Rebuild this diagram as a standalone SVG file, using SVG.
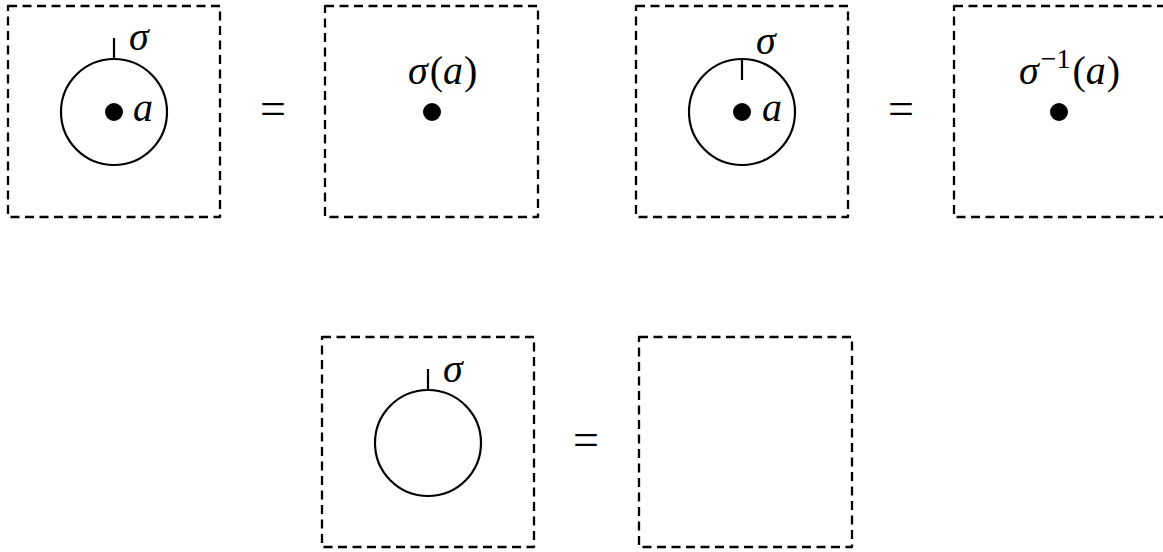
<svg xmlns="http://www.w3.org/2000/svg" width="1163" height="552" viewBox="0 0 1163 552">
<style>
.box{fill:none;stroke:#000;stroke-width:2.3;stroke-dasharray:9 5.5;stroke-linejoin:round}
.ring{fill:none;stroke:#000;stroke-width:2.2}
.stem{stroke:#000;stroke-width:2.2}
.dot{fill:#000}
.m{font-family:"Liberation Serif","DejaVu Serif",serif;font-size:40px;fill:#000}
.i{font-style:italic}
.eq{font-family:"Liberation Serif","DejaVu Serif",serif;font-size:46px;fill:#000;text-anchor:middle}
</style>
<rect width="1163" height="552" fill="#fff"/>
<g id="panel1">
<rect class="box" x="8" y="6" width="212" height="211"/>
<circle class="ring" cx="114" cy="112" r="53"/>
<line class="stem" x1="114" y1="38" x2="114" y2="59"/>
<circle class="dot" cx="114" cy="112" r="9"/>
<text class="m i" x="129" y="50">σ</text>
<text class="m i" x="133" y="121">a</text>
</g>
<text class="eq" x="273" y="124">=</text>
<g id="panel2">
<rect class="box" x="325" y="6" width="213" height="211"/>
<circle class="dot" cx="432" cy="112" r="9"/>
<text class="m" x="408" y="84"><tspan class="i">σ</tspan><tspan dx="2">(</tspan><tspan class="i">a</tspan><tspan dx="1">)</tspan></text>
</g>
<g id="panel3">
<rect class="box" x="636" y="6" width="212" height="211"/>
<circle class="ring" cx="742" cy="112" r="53"/>
<line class="stem" x1="742" y1="59" x2="742" y2="80"/>
<circle class="dot" cx="742" cy="112" r="9"/>
<text class="m i" x="756" y="54">σ</text>
<text class="m i" x="762" y="121">a</text>
</g>
<text class="eq" x="901" y="124">=</text>
<g id="panel4">
<rect class="box" x="954" y="6" width="212" height="211"/>
<circle class="dot" cx="1059" cy="112" r="9"/>
<text class="m" x="1019" y="84"><tspan class="i">σ</tspan><tspan font-size="28" dx="2" dy="-16">−1</tspan><tspan dx="2" dy="16">(</tspan><tspan class="i">a</tspan><tspan dx="1">)</tspan></text>
</g>
<g id="panel5">
<rect class="box" x="322" y="337" width="212" height="210"/>
<circle class="ring" cx="428" cy="443" r="53"/>
<line class="stem" x1="428" y1="369" x2="428" y2="390"/>
<text class="m i" x="443" y="382">σ</text>
</g>
<text class="eq" x="586" y="455">=</text>
<g id="panel6">
<rect class="box" x="639" y="337" width="213" height="210"/>
</g>
</svg>
